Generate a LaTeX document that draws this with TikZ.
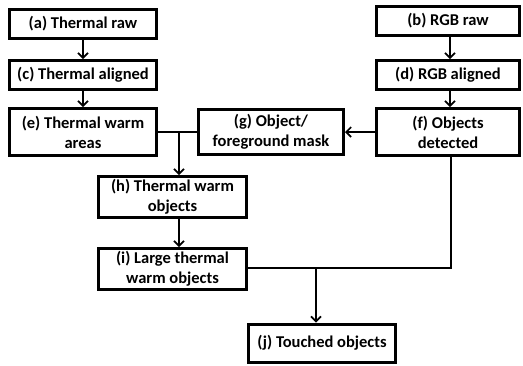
\documentclass[tikz,border=0pt]{standalone}
\usepackage{fontspec}
\setmainfont{Carlito}
\usetikzlibrary{arrows.meta, positioning}

\begin{document}
\begin{tikzpicture}[x=1pt, y=-1pt, >={Straight Barb[length=5pt,width=10pt]},
    stage/.style={draw, line width=3pt, align=center, inner sep=0pt,
      font=\fontsize{16.5}{20}\selectfont\bfseries},
    flow/.style={line width=1.6pt}]
  \useasboundingbox (0,0) rectangle (523,365);

  % Thermal column
  \node[stage, minimum width=147pt, minimum height=29pt] (traw) at (83,24)
    {(a) Thermal raw};
  \node[stage, minimum width=147pt, minimum height=29pt, below=19pt of traw] (talign)
    {(c) Thermal aligned};
  \node[stage, minimum width=147pt, minimum height=47pt, below=16pt of talign] (twarm)
    {(e) Thermal warm\\areas};

  % RGB column
  \node[stage, minimum width=143pt, minimum height=29pt] (rgbraw) at (448,21)
    {(b) RGB raw};
  \node[stage, minimum width=143pt, minimum height=29pt, below=22pt of rgbraw] (rgbalign)
    {(d) RGB aligned};
  \node[stage, minimum width=143pt, minimum height=47pt, below=16pt of rgbalign] (objdet)
    {(f) Objects\\detected};
  \node[stage, minimum width=145pt, minimum height=45pt, left=30pt of objdet] (mask)
    {(g) Object/\\foreground mask};

  % Combined stages
  \node[stage, minimum width=148pt, minimum height=41pt] (twobj) at (172.5,197)
    {(h) Thermal warm\\objects};
  \node[stage, minimum width=148pt, minimum height=41pt, below=28pt of twobj] (large)
    {(i) Large thermal\\warm objects};
  \node[stage, minimum width=147pt, minimum height=38pt] (touch) at (322,343)
    {(j) Touched objects};

  % Junctions and columns
  \coordinate (jwarm) at (179,132);
  \coordinate (jtouch) at (316,268);
  \coordinate (rgbx) at (450,0);
  \coordinate (detx) at (451,0);

  % Straight arrows
  \draw[flow, ->] (traw) -- (talign);
  \draw[flow, ->] (talign) -- (twarm);
  \draw[flow, ->] (rgbraw.south -| rgbx) -- (rgbalign.north -| rgbx);
  \draw[flow, ->] (rgbalign.south -| rgbx) -- (objdet.north -| rgbx);
  \draw[flow, ->] (objdet) -- (mask);
  \draw[flow, ->] (twobj.south -| jwarm) -- (large.north -| jwarm);

  % Merging lines
  \draw[flow] (twarm.east) -- (mask.west);
  \draw[flow, ->] (jwarm) -- (twobj.north -| jwarm);
  \draw[flow] (large.east |- jtouch) -- (jtouch -| detx) -- (objdet.south -| detx);
  \draw[flow, ->] (jtouch) -- (touch.north -| jtouch);
\end{tikzpicture}
\end{document}
